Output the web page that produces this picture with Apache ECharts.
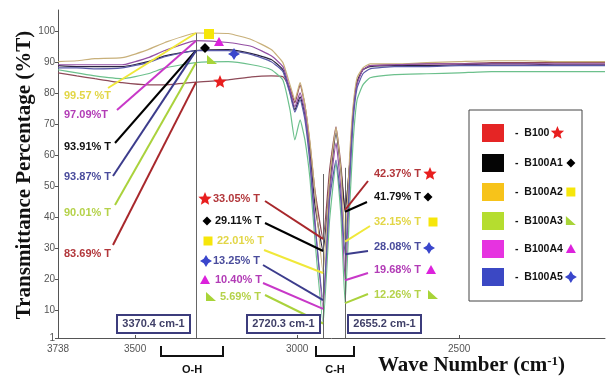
<!DOCTYPE html>
<html>
<head>
<meta charset="utf-8">
<script src="https://cdn.jsdelivr.net/npm/echarts@6/dist/echarts.min.js"></script>
<style>
  html, body { margin: 0; padding: 0; background: #fff; }
  #chart { width: 608px; height: 380px; }
</style>
</head>
<body>
<div id="chart"></div>
<script>
  var wave = [3738, 3680, 3624, 3540, 3460, 3408, 3312, 3213, 3140, 3080, 3044, 3022, 3007, 2991, 2976, 2960, 2945,
    2920, 2900, 2880, 2865, 2852, 2837, 2827, 2815, 2797, 2775, 2700, 2600, 2500, 2400, 2300, 2200, 2050];

  var b100 = [86.7, 85.7, 84.8, 83.5, 82.8, 82.8, 83.69, 84.4, 85.4, 85.7, 85.4, 81.8, 77.0, 82.8, 76.3, 63.3, 48.7,
    33.05, 55.2, 69.2, 56.8, 42.37, 58.5, 74.7, 83.8, 87.7, 89.0, 89.3, 89.6, 89.6, 90.0, 90.0, 90.0, 90.0];
  var b100a1 = [89.0, 88.7, 88.7, 88.7, 90.3, 92.2, 93.91, 94.2, 92.9, 91.0, 87.7, 80.5, 74.7, 78.9, 73.1, 60.1, 43.9,
    29.11, 50.4, 67.2, 55.2, 41.79, 58.5, 74.0, 83.8, 87.7, 88.7, 89.0, 89.0, 89.3, 89.6, 89.6, 89.3, 89.3];
  var b100a2 = [90.3, 90.6, 91.3, 91.6, 94.2, 96.5, 99.57, 99.4, 97.4, 94.2, 90.0, 82.8, 78.0, 83.5, 76.3, 64.0, 48.0,
    22.01, 52.0, 68.9, 55.2, 32.15, 61.7, 76.3, 85.1, 88.3, 89.6, 89.6, 90.0, 90.3, 90.6, 90.6, 90.3, 90.3];
  var b100a3 = [87.7, 86.7, 85.7, 84.8, 86.4, 88.3, 90.01, 90.3, 89.3, 87.7, 84.4, 74.7, 65.0, 71.5, 65.0, 52.0, 32.5,
    5.69, 39.0, 57.5, 40.6, 12.26, 45.5, 65.0, 78.0, 82.8, 85.1, 86.1, 86.4, 86.7, 87.1, 87.1, 87.1, 87.1];
  var b100a4 = [89.3, 89.3, 89.3, 89.3, 91.6, 93.9, 97.09, 96.5, 95.2, 92.2, 88.7, 81.2, 75.7, 80.2, 74.0, 58.5, 39.0,
    10.40, 47.1, 64.0, 48.7, 19.68, 55.2, 73.1, 83.1, 87.7, 89.0, 89.3, 89.6, 89.6, 89.6, 89.6, 89.6, 89.6];
  var b100a5 = [88.3, 88.3, 88.0, 88.3, 90.0, 91.9, 93.87, 93.9, 92.6, 90.3, 87.1, 79.9, 74.0, 78.0, 71.5, 56.8, 37.4,
    13.25, 45.5, 58.5, 45.5, 28.08, 53.6, 71.5, 81.8, 86.4, 88.0, 88.7, 88.7, 89.0, 89.0, 89.0, 89.0, 89.0];

  var names = ['B100', 'B100A1', 'B100A2', 'B100A3', 'B100A4', 'B100A5'];
  var seriesValues = [b100, b100a1, b100a2, b100a3, b100a4, b100a5];

  // band positions as drawn, the printed band labels, and the %T read at each band
  var bandPos = [3312, 2920, 2852];
  var bandTop = [99.57, 54, 56];
  var bandLabels = ['3370.4 cm-1', '2720.3 cm-1', '2655.2 cm-1'];
  var ohValues = [83.69, 93.91, 99.57, 90.01, 97.09, 93.87];
  var ch1Values = [33.05, 29.11, 22.01, 5.69, 10.40, 13.25];
  var ch2Values = [42.37, 41.79, 32.15, 12.26, 19.68, 28.08];
  var ohLabels = ['83.69% T', '93.91% T', '99.57 %T', '90.01% T', '97.09%T', '93.87% T'];
  var ch1Labels = ['33.05% T', '29.11% T', '22.01% T', '5.69% T', '10.40% T', '13.25% T'];
  var ch2Labels = ['42.37% T', '41.79% T', '32.15% T', '12.26% T', '19.68% T', '28.08% T'];

  var xTicks = [3738, 3500, 3000, 2500];
  var yTicks = [1, 10, 20, 30, 40, 50, 60, 70, 80, 90, 100];

  var lineColors = ['#8e4a58', '#2a2440', '#c8b07a', '#6cc08c', '#9450a4', '#5a5aa8'];
  var markColors = ['#e81e1e', '#000000', '#f6e60a', '#a8d438', '#dc22dc', '#3a46cc'];
  var legendColors = ['#e52525', '#050505', '#f7c31a', '#b5dd2f', '#e633e0', '#3b48c4'];
  var textColors = ['#b2373b', '#111111', '#e2d646', '#b5d24a', '#b23cb6', '#4a4c9c'];
  var leaderColors = ['#a8282c', '#000000', '#f0e83a', '#aad23c', '#c838c8', '#3c3c8c'];
  var shapes = ['star', 'diamond', 'square', 'rtri', 'tri', 'plus'];

  var sansFont = "'Liberation Sans', Arial, sans-serif";
  var serifFont = "'Liberation Serif', 'Times New Roman', serif";

  var chart = echarts.init(document.getElementById('chart'));

  var series = names.map(function (n, i) {
    var s = {
      name: n,
      type: 'line',
      data: wave.map(function (w, k) { return [w, seriesValues[i][k]]; }),
      showSymbol: false,
      smooth: 0.15,
      lineStyle: { color: lineColors[i], width: 1.2 },
      z: 2
    };
    if (i === 0) {
      s.markLine = {
        silent: true,
        symbol: 'none',
        label: { show: false },
        lineStyle: { color: '#666', width: 1, type: 'solid' },
        data: bandPos.map(function (p, k) {
          return [{ coord: [p, 1] }, { coord: [p, bandTop[k]] }];
        })
      };
    }
    return s;
  });

  chart.setOption({
    animation: false,
    backgroundColor: '#fff',
    grid: { left: 58, right: 3, top: 10, bottom: 42 },
    xAxis: {
      type: 'value',
      inverse: true,
      min: 2050,
      max: 3738,
      axisLine: { lineStyle: { color: '#555', width: 1 } },
      axisTick: { inside: true, length: 3, customValues: xTicks, lineStyle: { color: '#555' } },
      axisLabel: {
        customValues: xTicks, color: '#555', fontSize: 10, margin: 6,
        fontFamily: "'Liberation Sans Narrow', " + sansFont,
        formatter: function (v) { return String(v); }
      },
      splitLine: { show: false }
    },
    yAxis: {
      type: 'value',
      min: 1,
      max: 107,
      axisLine: { show: true, lineStyle: { color: '#555', width: 1 } },
      axisTick: { show: true, length: 3, customValues: yTicks, lineStyle: { color: '#555' } },
      axisLabel: { customValues: yTicks, color: '#555', fontSize: 10, fontFamily: "'Liberation Sans Narrow', " + sansFont, margin: 3 },
      splitLine: { show: false }
    },
    series: series
  });

  function px(w, v) { return chart.convertToPixel({ gridIndex: 0 }, [w, v]); }

  var measureCtx = document.createElement('canvas').getContext('2d');
  function textWidth(text, font) { measureCtx.font = font; return measureCtx.measureText(text).width; }

  function marker(shape, cx, cy, s, color) {
    var pts;
    if (shape === 'star') {
      pts = [];
      for (var i = 0; i < 10; i++) {
        var r = i % 2 ? s * 0.45 : s;
        var a = -Math.PI / 2 + i * Math.PI / 5;
        pts.push([cx + r * Math.cos(a), cy + r * Math.sin(a)]);
      }
    } else if (shape === 'diamond') {
      pts = [[cx, cy - s], [cx + s, cy], [cx, cy + s], [cx - s, cy]];
    } else if (shape === 'square') {
      pts = [[cx - s, cy - s], [cx + s, cy - s], [cx + s, cy + s], [cx - s, cy + s]];
    } else if (shape === 'tri') {
      pts = [[cx, cy - s], [cx + s, cy + s * 0.8], [cx - s, cy + s * 0.8]];
    } else if (shape === 'rtri') {
      pts = [[cx - s, cy - s], [cx + s, cy + s * 0.8], [cx - s, cy + s * 0.8]];
    } else {
      var w = s * 0.38;
      pts = [[cx, cy - s], [cx + w, cy - w], [cx + s, cy], [cx + w, cy + w], [cx, cy + s], [cx - w, cy + w], [cx - s, cy], [cx - w, cy - w]];
    }
    return { type: 'polygon', shape: { points: pts }, style: { fill: color }, z: 20 };
  }

  function txt(x, y, text, color, size, align) {
    return {
      type: 'text', x: x, y: y, z: 20,
      style: { text: text, fill: color, font: 'bold ' + size + 'px ' + sansFont, align: align || 'left', verticalAlign: 'middle' }
    };
  }

  function leader(from, to, color) {
    return {
      type: 'line', z: 15,
      shape: { x1: from[0], y1: from[1], x2: to[0], y2: to[1] },
      style: { stroke: color, lineWidth: 2 }
    };
  }

  var g = [];

  // O-H group
  var ohTextY = [254, 147, 96, 213, 115, 177];
  var ohStart = [[113, 245], [115, 143], [108, 88], [115, 205], [117, 110], [113, 176]];
  var ohMark = [[220, 82], [205, 48], [209, 34], [212, 60], [219, 42], [234, 54]];
  var ohSize = [7, 5, 5, 5, 5, 6];
  // first C-H group
  var c1TextX = [213, 215, 217, 220, 215, 213];
  var c1TextY = [199, 221, 241, 297, 280, 261];
  var c1Mark = [[205, 199], [207, 221], [208, 241], [211, 297], [205, 280], [206, 261]];
  var c1Start = [[265, 201], [265, 223], [264, 250], [265, 295], [263, 283], [263, 265]];
  // second C-H group
  var c2TextY = [174, 197, 222, 295, 270, 247];
  var c2Mark = [[430, 174], [428, 197], [433, 222], [433, 295], [431, 270], [429, 248]];
  var c2Start = [[368, 181], [367, 202], [370, 226], [368, 294], [368, 273], [368, 251]];
  var smallSize = [7, 4.5, 4.5, 5, 5, 6];

  for (var i = 0; i < 6; i++) {
    g.push(leader(ohStart[i], px(bandPos[0], ohValues[i]), leaderColors[i]));
    g.push(txt(64, ohTextY[i], ohLabels[i], textColors[i], 11));
    g.push(marker(shapes[i], ohMark[i][0], ohMark[i][1], ohSize[i], markColors[i]));

    g.push(leader(c1Start[i], px(bandPos[1], ch1Values[i]), leaderColors[i]));
    g.push(txt(c1TextX[i], c1TextY[i], ch1Labels[i], textColors[i], 11));
    g.push(marker(shapes[i], c1Mark[i][0], c1Mark[i][1], smallSize[i], markColors[i]));

    g.push(leader(c2Start[i], px(bandPos[2], ch2Values[i]), leaderColors[i]));
    g.push(txt(421, c2TextY[i], ch2Labels[i], textColors[i], 11, 'right'));
    g.push(marker(shapes[i], c2Mark[i][0], c2Mark[i][1], smallSize[i], markColors[i]));
  }

  // band boxes
  var boxX = [117, 247, 348];
  bandLabels.forEach(function (b, k) {
    g.push({ type: 'rect', z: 18, shape: { x: boxX[k], y: 315, width: 73, height: 18 },
      style: { fill: '#fff', stroke: '#3c3c7c', lineWidth: 2 } });
    g.push(txt(boxX[k] + 36.5, 324, b, '#404068', 11, 'center'));
  });

  // brackets under the axis
  [[161, 223, 'O-H'], [316, 354, 'C-H']].forEach(function (br) {
    g.push({ type: 'polyline', z: 18, shape: { points: [[br[0], 346], [br[0], 356], [br[1], 356], [br[1], 346]] },
      style: { stroke: '#111', lineWidth: 2, fill: null } });
    g.push(txt((br[0] + br[1]) / 2, 370, br[2], '#111', 11, 'center'));
  });

  // axis titles
  g.push({
    type: 'text', x: 25, y: 175, rotation: Math.PI / 2, z: 20,
    style: { text: 'Transmittance Percentage (%T)', fill: '#111', font: 'bold 21px ' + serifFont, align: 'center', verticalAlign: 'middle' }
  });
  g.push({
    type: 'text', x: 378, y: 366, z: 20,
    style: {
      text: '{a|Wave Number (cm}{b|-1}{a|)}', align: 'left', verticalAlign: 'middle',
      rich: {
        a: { fontFamily: serifFont, fontWeight: 'bold', fontSize: 21, fill: '#111', color: '#111' },
        b: { fontFamily: serifFont, fontWeight: 'bold', fontSize: 13, fill: '#111', color: '#111', verticalAlign: 'top' }
      }
    }
  });

  // legend box
  g.push({ type: 'rect', z: 18, shape: { x: 469, y: 110, width: 113, height: 191 },
    style: { fill: '#fff', stroke: '#444', lineWidth: 1 } });
  var legY = [133, 163, 192, 221, 249, 277];
  var legFont = 'bold 10.5px ' + sansFont;
  names.forEach(function (n, k) {
    var label = '-  ' + n;
    var end = 515 + textWidth(label, legFont);
    g.push({ type: 'rect', z: 19, shape: { x: 482, y: legY[k] - 9, width: 22, height: 18 }, style: { fill: legendColors[k] } });
    g.push({ type: 'text', x: 515, y: legY[k], z: 20,
      style: { text: label, fill: '#111', font: legFont, align: 'left', verticalAlign: 'middle' } });
    g.push(marker(shapes[k], end + 8, legY[k], smallSize[k], markColors[k]));
  });

  chart.setOption({ graphic: g });
</script>
</body>
</html>
